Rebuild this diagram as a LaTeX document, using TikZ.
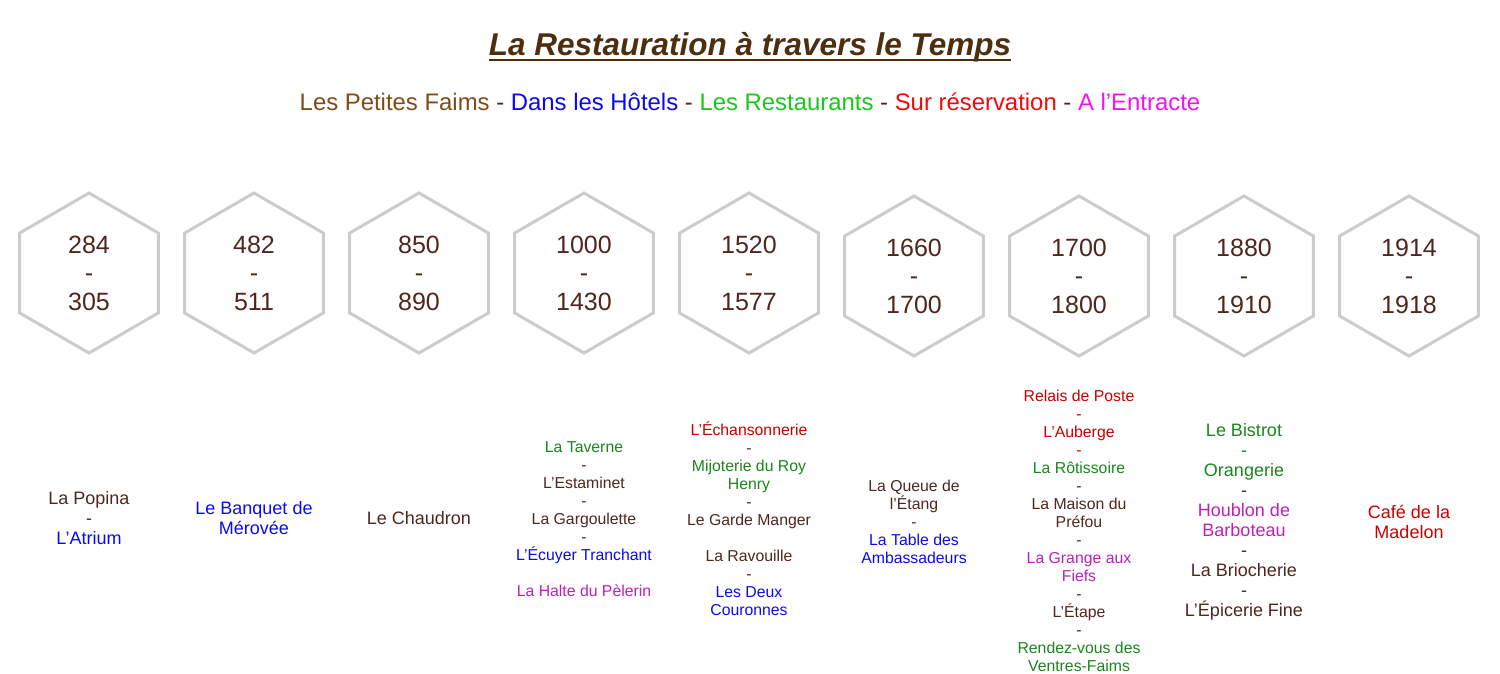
\documentclass[tikz,border=0pt]{standalone}
\usepackage{fontspec}
\setmainfont{Liberation Sans}
\usepackage{xcolor}
\definecolor{Col1}{RGB}{77,46,14}
\definecolor{Col2}{RGB}{80,38,28}
\definecolor{Col3}{RGB}{204,204,204}
\definecolor{Col4}{RGB}{128,76,22}
\definecolor{Col5}{RGB}{10,10,240}
\definecolor{Col6}{RGB}{25,200,25}
\definecolor{Col7}{RGB}{240,10,10}
\definecolor{Col8}{RGB}{240,20,240}
\definecolor{Col9}{RGB}{25,135,25}
\definecolor{Col10}{RGB}{200,0,0}
\definecolor{Col11}{RGB}{190,30,190}
\usetikzlibrary{shapes.geometric}
\tikzstyle{Hexa}=[regular polygon,regular polygon sides=6,
shape border rotate=30,minimum size=160pt,inner sep=0pt,draw=Col3,
line width=3pt,text=Col2,align=center,font=\fontsize{25}{28.5}\selectfont]
\tikzstyle{Dish}=[align=center,inner sep=0pt,text=Col2,
font=\fontsize{15.8}{18}\selectfont]
\tikzstyle{DishBig}=[Dish,font=\fontsize{18}{20}\selectfont]
\tikzstyle{Title}=[inner sep=0pt,text=Col1,
font=\fontsize{31.5}{34}\selectfont\bfseries\itshape]
\tikzstyle{Legend}=[inner sep=0pt,text=Col2,font=\fontsize{23.9}{26}\selectfont]

\begin{document}
\begin{tikzpicture}[x=1pt,y=-1pt]
        \useasboundingbox(0,0)rectangle(1500,674);
        \node[Title](title)at(750,47){La Restauration à travers le Temps};
        \draw[Col1,line width=2pt]([yshift=-5pt]title.base west)
            --([yshift=-5pt]title.base east);
        \node[Legend](legend)at(750,102){\textcolor{Col4}{Les Petites Faims}
            - \textcolor{Col5}{Dans les Hôtels}
            - \textcolor{Col6}{Les Restaurants}
            - \textcolor{Col7}{Sur réservation}
            - \textcolor{Col8}{A l’Entracte}};
        \node[Hexa](h1)at(89,273){284\\-\\305};
        \node[Hexa](h2)at(254,273){482\\-\\511};
        \node[Hexa](h3)at(419,273){850\\-\\890};
        \node[Hexa](h4)at(584,273){1000\\-\\1430};
        \node[Hexa](h5)at(749,273){1520\\-\\1577};
        \node[Hexa](h6)at(914,276){1660\\-\\1700};
        \node[Hexa](h7)at(1079,276){1700\\-\\1800};
        \node[Hexa](h8)at(1244,276){1880\\-\\1910};
        \node[Hexa](h9)at(1409,276){1914\\-\\1918};
        \node[DishBig](d1)at(89,518){La Popina\\-\\
            \textcolor{Col5}{L’Atrium}};
        \node[DishBig,text=Col5](d2)at(254,518){Le Banquet de\\Mérovée};
        \node[DishBig](d3)at(419,518){Le Chaudron};
        \node[Dish](d4)at(584,519){\textcolor{Col9}{La Taverne}\\-\\
            L’Estaminet\\-\\La Gargoulette\\-\\
            \textcolor{Col5}{L’Écuyer Tranchant}\\[18pt]
            \textcolor{Col11}{La Halte du Pèlerin}};
        \node[Dish](d5)at(749,519){\textcolor{Col10}{L’Échansonnerie}\\-\\
            \textcolor{Col9}{Mijoterie du Roy}\\\textcolor{Col9}{Henry}\\-\\
            Le Garde Manger\\[18pt]La Ravouille\\-\\
            \textcolor{Col5}{Les Deux}\\\textcolor{Col5}{Couronnes}};
        \node[Dish](d6)at(914,522){La Queue de\\l’Étang\\-\\
            \textcolor{Col5}{La Table des}\\\textcolor{Col5}{Ambassadeurs}};
        \node[Dish](d7)at(1079,530.5){\textcolor{Col10}{Relais de Poste}\\
            \textcolor{Col10}{-}\\\textcolor{Col10}{L’Auberge}\\
            \textcolor{Col10}{-}\\\textcolor{Col9}{La Rôtissoire}\\-\\
            La Maison du\\Préfou\\-\\
            \textcolor{Col11}{La Grange aux}\\\textcolor{Col11}{Fiefs}\\-\\
            L’Étape\\-\\
            \textcolor{Col9}{Rendez-vous des}\\\textcolor{Col9}{Ventres-Faims}};
        \node[DishBig](d8)at(1244,522){\textcolor{Col9}{Le Bistrot}\\
            \textcolor{Col9}{-}\\\textcolor{Col9}{Orangerie}\\-\\
            \textcolor{Col11}{Houblon de}\\\textcolor{Col11}{Barboteau}\\-\\
            La Briocherie\\-\\L’Épicerie Fine};
        \node[DishBig,text=Col10](d9)at(1409,522){Café de la\\Madelon};
    \end{tikzpicture}
\end{document}
